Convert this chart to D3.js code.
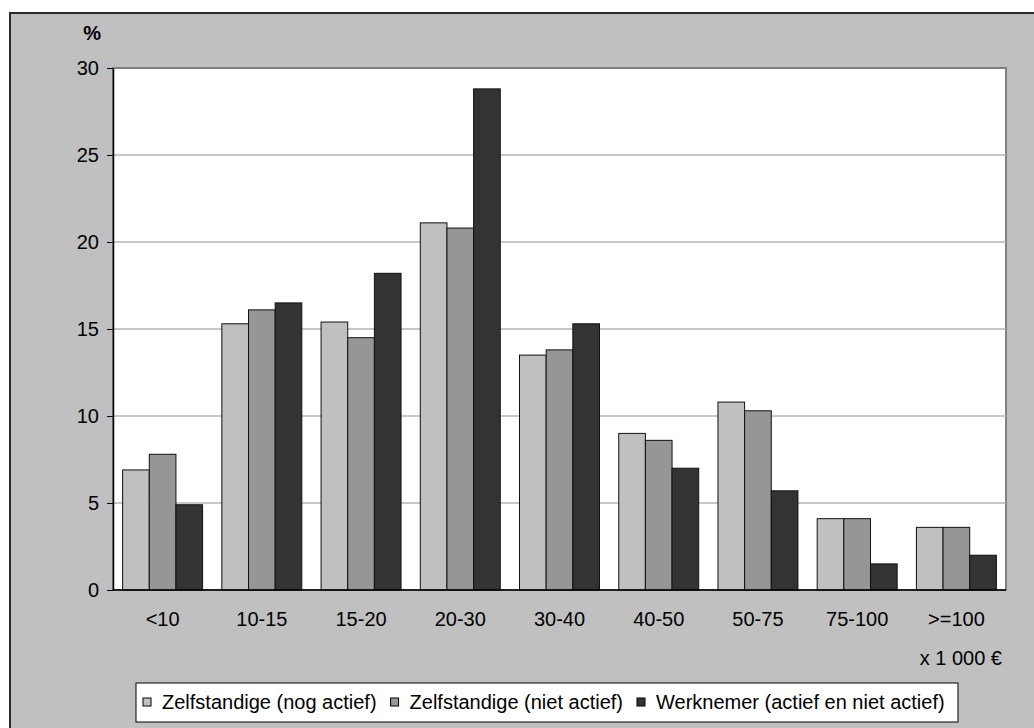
<!DOCTYPE html>
<html>
<head>
<meta charset="utf-8">
<script src="https://cdn.jsdelivr.net/npm/d3@7"></script>
<style>
  html, body { margin: 0; padding: 0; background: #ffffff; }
  svg { display: block; font-family: Arial, "Liberation Sans", sans-serif; }
</style>
</head>
<body>
<svg id="chart" width="1034" height="728"></svg>
<script>
// Income classes (x 1 000 €)
const categories = ["<10", "10-15", "15-20", "20-30", "30-40", "40-50", "50-75", "75-100", ">=100"];
const seriesNames = ["Zelfstandige (nog actief)", "Zelfstandige (niet actief)", "Werknemer (actief en niet actief)"];
// Share of each group per income class, %
const zelfstandigeNogActief = [6.9, 15.3, 15.4, 21.1, 13.5, 9.0, 10.8, 4.1, 3.6];
const zelfstandigeNietActief = [7.8, 16.1, 14.5, 20.8, 13.8, 8.6, 10.3, 4.1, 3.6];
const werknemer = [4.9, 16.5, 18.2, 28.8, 15.3, 7.0, 5.7, 1.5, 2.0];
const yTicks = [0, 5, 10, 15, 20, 25, 30];
const seriesColors = ["#c0c0c0", "#969696", "#333333"];

const seriesValues = [zelfstandigeNogActief, zelfstandigeNietActief, werknemer];
const rows = categories.map((c, i) => ({
  category: c,
  values: seriesNames.map((s, j) => ({ series: s, index: j, value: seriesValues[j][i] }))
}));

const svg = d3.select("#chart");
const W = 1034, H = 728;
const plot = { left: 113, top: 68, right: 1006, bottom: 590 };

// Chart area background and frame
svg.append("rect").attr("x", 10).attr("y", 13).attr("width", W).attr("height", H)
  .attr("fill", "#c0c0c0").attr("stroke", "#2a2a2a").attr("stroke-width", 2);

// Plot area
svg.append("rect")
  .attr("x", plot.left).attr("y", plot.top)
  .attr("width", plot.right - plot.left).attr("height", plot.bottom - plot.top)
  .attr("fill", "#ffffff").attr("stroke", "#808080").attr("stroke-width", 2);

const x0 = d3.scaleBand().domain(categories).range([plot.left, plot.right])
  .paddingInner(0.194).paddingOuter(0.097);
const x1 = d3.scaleBand().domain(d3.range(seriesNames.length)).range([0, x0.bandwidth()]);
const y = d3.scaleLinear().domain([0, 30]).range([plot.bottom, plot.top]);

// Horizontal gridlines
svg.append("g").selectAll("line")
  .data(yTicks.filter(t => t > 0 && t < 30))
  .join("line")
  .attr("x1", plot.left).attr("x2", plot.right)
  .attr("y1", d => y(d)).attr("y2", d => y(d))
  .attr("stroke", "#b4b4b4").attr("stroke-width", 1.5);

// Bars
const groups = svg.append("g").selectAll("g")
  .data(rows).join("g")
  .attr("transform", d => `translate(${x0(d.category)},0)`);
groups.selectAll("rect")
  .data(d => d.values).join("rect")
  .attr("x", d => x1(d.index))
  .attr("width", x1.bandwidth())
  .attr("y", d => y(d.value))
  .attr("height", d => y(0) - y(d.value))
  .attr("fill", d => seriesColors[d.index])
  .attr("stroke", "#111111").attr("stroke-width", 1);

// Y axis
const yAxis = svg.append("g")
  .attr("transform", `translate(${plot.left},0)`)
  .call(d3.axisLeft(y).tickValues(yTicks).tickSize(6).tickSizeOuter(0).tickPadding(8));
yAxis.select(".domain").attr("stroke", "#000").attr("stroke-width", 1.5);
yAxis.selectAll(".tick line").attr("stroke", "#000");
yAxis.selectAll("text").attr("font-size", 20).attr("fill", "#000")
  .attr("font-family", "Arial, 'Liberation Sans', sans-serif");

// X axis
const xAxis = svg.append("g")
  .attr("transform", `translate(0,${plot.bottom})`)
  .call(d3.axisBottom(x0).tickSize(0).tickSizeOuter(0).tickPadding(22));
xAxis.select(".domain").attr("stroke", "#000").attr("stroke-width", 1.5)
  .attr("d", `M${plot.left},0H${plot.right}`);
xAxis.selectAll("text").attr("font-size", 20).attr("fill", "#000")
  .attr("font-family", "Arial, 'Liberation Sans', sans-serif");

// Axis titles
svg.append("text").attr("x", 101).attr("y", 40).attr("text-anchor", "end")
  .attr("font-size", 20).attr("font-weight", "bold").text("%");
svg.append("text").attr("x", 1002).attr("y", 665).attr("text-anchor", "end")
  .attr("font-size", 20).text("x 1 000 €");

// Legend
const legend = svg.append("g");
legend.append("rect").attr("x", 136).attr("y", 683).attr("width", 822).attr("height", 39)
  .attr("fill", "#ffffff").attr("stroke", "#000").attr("stroke-width", 1);
let lx = 143;
seriesNames.forEach((name, i) => {
  legend.append("rect").attr("x", lx).attr("y", 698).attr("width", 8).attr("height", 8)
    .attr("fill", seriesColors[i]).attr("stroke", "#000").attr("stroke-width", 1);
  const t = legend.append("text").attr("x", lx + 19).attr("y", 709)
    .attr("font-size", 20).text(name);
  lx = lx + 19 + t.node().getComputedTextLength() + 14;
});
</script>
</body>
</html>
